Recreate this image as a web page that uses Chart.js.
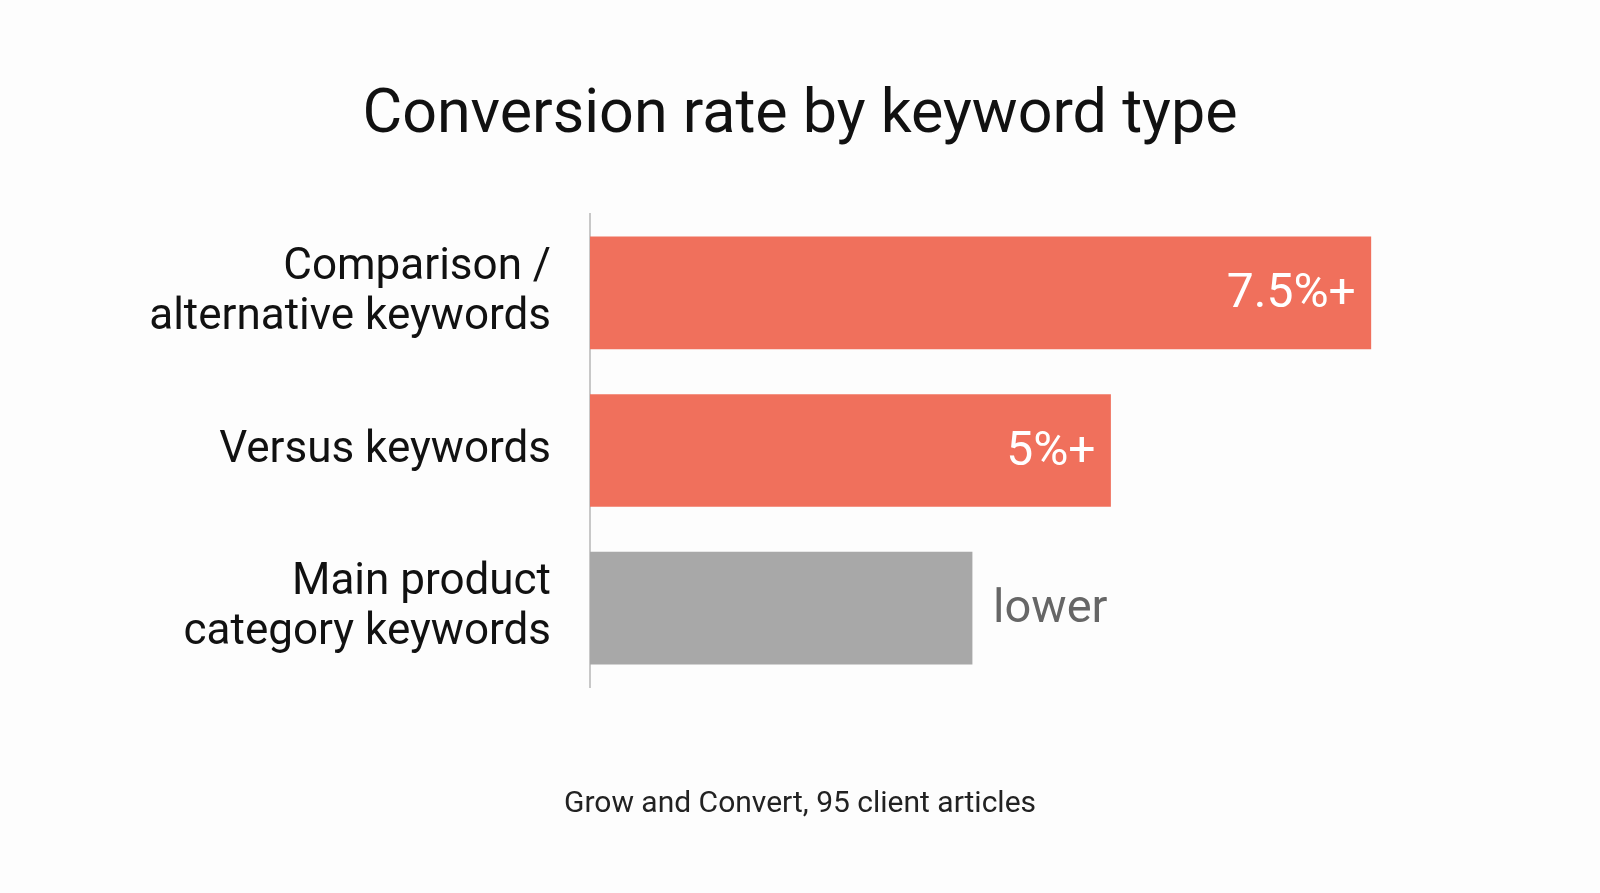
<!DOCTYPE html>
<html><head><meta charset="utf-8">
<script src="https://cdn.jsdelivr.net/npm/chart.js@4"></script>
<style>
html,body{margin:0;padding:0;background:#fdfdfd;font-family:Roboto,sans-serif;}
#wrap{position:relative;width:1600px;height:893px;}
#title{position:absolute;left:0;width:1600px;top:75px;text-align:center;font-size:61px;color:#111;}
#src{position:absolute;left:0;width:1600px;top:784px;text-align:center;font-size:30px;color:#222;}
canvas{position:absolute;left:0;top:0;}
</style></head><body>
<div id="wrap">
<canvas id="c" width="1600" height="893"></canvas>
<div id="title">Conversion rate by keyword type</div>
<div id="src">Grow and Convert, 95 client articles</div>
</div>
<script>
const categories = [["Comparison /","alternative keywords"],"Versus keywords",["Main product","category keywords"]];
const values = [7.5, 5, 3.67];
const valueLabels = ["7.5%+","5%+","lower"];
const colors = ["#F0705C","#F0705C","#A8A8A8"];

const labelPlugin = {
  id:'vals',
  afterDatasetsDraw(chart){
    const ctx=chart.ctx; const meta=chart.getDatasetMeta(0);
    ctx.save(); ctx.textBaseline='middle';
    meta.data.forEach((bar,i)=>{
      if(i<2){ctx.fillStyle='#fff';ctx.font='48px Roboto';ctx.textAlign='right';ctx.fillText(valueLabels[i],bar.x-15,bar.y+2);}
      else{ctx.fillStyle='#666';ctx.font='47px Roboto';ctx.textAlign='left';ctx.fillText(valueLabels[i],bar.x+21,bar.y+2);}
    });
    ctx.restore();
  }
};
new Chart(document.getElementById('c'),{
  type:'bar',
  data:{labels:categories,datasets:[{data:values,backgroundColor:colors,barThickness:112}]},
  options:{
    indexAxis:'y',responsive:false,animation:false,
    layout:{padding:{top:214,bottom:206,right:73,left:0}},
    plugins:{legend:{display:false},tooltip:{enabled:false}},
    scales:{
      x:{display:false,min:0,max:9},
      y:{
        afterFit(s){s.width=590;},
        grid:{display:false},
        border:{display:true,color:'#c8c8c8',width:2},
        ticks:{color:'#111',font:{family:'Roboto',size:44,lineHeight:1.15},padding:31}
      }
    }
  },
  plugins:[labelPlugin]
});
</script>
</body></html>
